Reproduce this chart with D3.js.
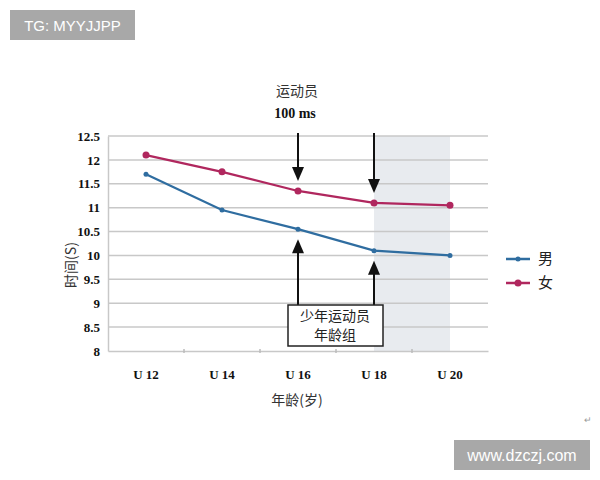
<!DOCTYPE html>
<html><head><meta charset="utf-8">
<script src="https://cdn.jsdelivr.net/npm/d3@7"></script>
<style>body{margin:0;background:#fff}svg{display:block}</style>
</head><body>
<svg id="c" width="600" height="480"></svg>
<script>
const categories = ["U 12","U 14","U 16","U 18","U 20"];
const male = [11.7, 10.95, 10.55, 10.1, 10.0];
const female = [12.1, 11.75, 11.35, 11.1, 11.05];
const yTicks = [8, 8.5, 9, 9.5, 10, 10.5, 11, 11.5, 12, 12.5];
const seriesNames = ["男", "女"];
const colors = ["#2f6da0", "#b0275e"];

const svg = d3.select("#c");
const serif = "'Liberation Serif','DejaVu Serif',serif";
const cjk = "'Noto Sans CJK SC','Noto Sans',sans-serif";

const x = d3.scaleBand().domain(categories).range([108, 488]);
const y = d3.scaleLinear().domain([8, 12.5]).range([351, 136]);
const cx = c => x(c) + x.bandwidth() / 2;

// shaded region U18..U20
svg.append("rect").attr("x", cx("U 18")).attr("y", y(12.5))
  .attr("width", cx("U 20") - cx("U 18")).attr("height", y(8) - y(12.5))
  .attr("fill", "#e8ebef");

// gridlines
svg.append("g").selectAll("line").data(yTicks.slice(1)).join("line")
  .attr("x1", 108).attr("x2", 488).attr("y1", d => y(d)).attr("y2", d => y(d))
  .attr("stroke", "#c8c8c8").attr("stroke-width", 1.5);

// y axis
const ya = svg.append("g").attr("transform", "translate(108,0)")
  .call(d3.axisLeft(y).tickValues(yTicks).tickFormat(d => String(d)).tickSize(0).tickPadding(8));
ya.select(".domain").attr("stroke", "#c8c8c8").attr("stroke-width", 1.5);
ya.selectAll("text").attr("font-family", serif).attr("font-weight", "bold").attr("font-size", 13).attr("fill", "#111");

// x axis
const xa = svg.append("g").attr("transform", `translate(0,${y(8)})`)
  .call(d3.axisBottom(x).tickSize(0).tickPadding(19));
xa.select(".domain").attr("stroke", "#c8c8c8").attr("stroke-width", 1.5);
xa.selectAll("text").attr("font-family", serif).attr("font-weight", "bold").attr("font-size", 13).attr("fill", "#111");
// small ticks at band boundaries
xa.append("g").selectAll("line").data(categories.slice(1)).join("line")
  .attr("x1", d => x(d)).attr("x2", d => x(d)).attr("y1", -2).attr("y2", 2)
  .attr("stroke", "#bbb").attr("stroke-width", 1.5);

// lines
const line = d3.line().x((d, i) => cx(categories[i])).y(d => y(d));
[male, female].forEach((s, k) => {
  svg.append("path").datum(s).attr("d", line).attr("fill", "none")
    .attr("stroke", colors[k]).attr("stroke-width", 2.2);
  svg.append("g").selectAll("circle").data(s).join("circle")
    .attr("cx", (d, i) => cx(categories[i])).attr("cy", d => y(d))
    .attr("r", k === 0 ? 2.5 : 3.5).attr("fill", colors[k]);
});

// arrows
function arrow(xp, y0, y1) {
  const dir = y1 > y0 ? 1 : -1;
  svg.append("line").attr("x1", xp).attr("x2", xp).attr("y1", y0).attr("y2", y1 - dir * 12)
    .attr("stroke", "#111").attr("stroke-width", 2);
  svg.append("path").attr("d", `M${xp - 6},${y1 - dir * 14}L${xp + 6},${y1 - dir * 14}L${xp},${y1}Z`).attr("fill", "#111");
}
["U 16", "U 18"].forEach(c => {
  const i = categories.indexOf(c);
  arrow(cx(c), 133, y(female[i]) - 10);
  arrow(cx(c), 305, y(male[i]) + 10);
});

// box
svg.append("rect").attr("x", 288).attr("y", 305).attr("width", 95).attr("height", 41)
  .attr("fill", "#fff").attr("stroke", "#222").attr("stroke-width", 1.5);
svg.append("text").attr("x", 335).attr("y", 321).attr("text-anchor", "middle")
  .attr("font-family", cjk).attr("font-size", 14).attr("fill", "#222").text("少年运动员");
svg.append("text").attr("x", 335).attr("y", 340).attr("text-anchor", "middle")
  .attr("font-family", cjk).attr("font-size", 14).attr("fill", "#222").text("年龄组");

// top annotation
svg.append("text").attr("x", 297).attr("y", 96).attr("text-anchor", "middle")
  .attr("font-family", cjk).attr("font-size", 14).attr("fill", "#333").text("运动员");
svg.append("text").attr("x", 295).attr("y", 118).attr("text-anchor", "middle")
  .attr("font-family", serif).attr("font-weight", "bold").attr("font-size", 14).attr("fill", "#111").text("100 ms");

// axis titles
svg.append("text").attr("transform", "translate(76,265) rotate(-90)").attr("text-anchor", "middle")
  .attr("font-family", cjk).attr("font-size", 14).attr("fill", "#333").text("时间(S)");
svg.append("text").attr("x", 297).attr("y", 405).attr("text-anchor", "middle")
  .attr("font-family", cjk).attr("font-size", 14).attr("fill", "#333").text("年龄(岁)");

// legend
seriesNames.forEach((n, k) => {
  const ly = 259 + k * 24;
  svg.append("line").attr("x1", 506).attr("x2", 530).attr("y1", ly).attr("y2", ly)
    .attr("stroke", colors[k]).attr("stroke-width", 2.5);
  svg.append("circle").attr("cx", 518).attr("cy", ly).attr("r", k === 0 ? 2.5 : 3.5).attr("fill", colors[k]);
  svg.append("text").attr("x", 538).attr("y", ly + 5).attr("font-family", cjk)
    .attr("font-size", 15).attr("fill", "#222").text(n);
});

// small return glyph
svg.append("text").attr("x", 584).attr("y", 423).attr("font-family", cjk)
  .attr("font-size", 9).attr("fill", "#999").text("↵");

// watermarks
svg.append("rect").attr("x", 10).attr("y", 10).attr("width", 125).attr("height", 30).attr("fill", "#a8a8a8");
svg.append("text").attr("x", 72.5).attr("y", 31).attr("text-anchor", "middle")
  .attr("font-family", "'Liberation Sans',Arial,sans-serif").attr("font-size", 15).attr("fill", "#fff").text("TG: MYYJJPP");
svg.append("rect").attr("x", 454).attr("y", 440).attr("width", 136).attr("height", 30).attr("fill", "#a8a8a8");
svg.append("text").attr("x", 522).attr("y", 461).attr("text-anchor", "middle")
  .attr("font-family", "'Liberation Sans',Arial,sans-serif").attr("font-size", 16).attr("fill", "#fff").text("www.dzczj.com");
</script>
</body></html>
